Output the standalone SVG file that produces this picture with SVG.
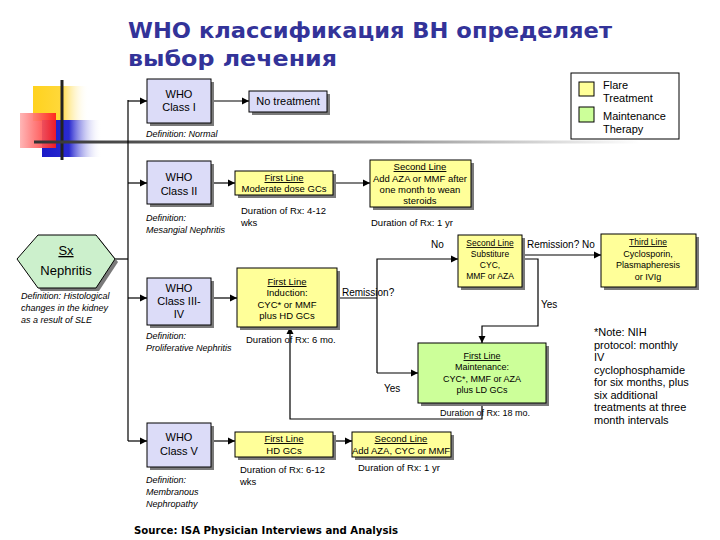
<svg xmlns="http://www.w3.org/2000/svg" width="720" height="540" viewBox="0 0 720 540">
<defs>
<marker id="ah" markerWidth="8" markerHeight="8" refX="7" refY="4" orient="auto" markerUnits="userSpaceOnUse"><path d="M0,0.5 L7,4 L0,7.5 z" fill="#000"/></marker>
<linearGradient id="gl" x1="0" y1="0" x2="1" y2="0"><stop offset="0" stop-color="#333"/><stop offset="0.6" stop-color="#999"/><stop offset="1" stop-color="#fff"/></linearGradient>
<linearGradient id="gy" x1="0" y1="0" x2="1" y2="0"><stop offset="0" stop-color="#ffd21e"/><stop offset="0.5" stop-color="#ffd83a"/><stop offset="1" stop-color="#fff" stop-opacity="0"/></linearGradient>
<linearGradient id="gr" x1="0" y1="0" x2="1" y2="0"><stop offset="0" stop-color="#ffb0b0"/><stop offset="1" stop-color="#ff1a1a"/></linearGradient>
<linearGradient id="gb" x1="0" y1="0" x2="1" y2="0"><stop offset="0" stop-color="#1a1ac8"/><stop offset="0.45" stop-color="#2a2ad0"/><stop offset="1" stop-color="#fff" stop-opacity="0"/></linearGradient>
</defs>
<style>
.t{font-family:"Liberation Sans",Arial,sans-serif;font-size:9.5px;fill:#000}
.m{text-anchor:middle}
.b{font-size:11px}
.i{font-style:italic;font-size:9px}
.u{text-decoration:underline}
.cls{fill:#dcdcf8;stroke:#000;stroke-width:1}
.yel{fill:#ffff99;stroke:#000;stroke-width:1}
.grn{fill:#ccff99;stroke:#000;stroke-width:1}
.sh{fill:#7a7a7a}
.c{fill:none;stroke:#000;stroke-width:1.2}
.ttl{font-family:"DejaVu Sans",Verdana,sans-serif;font-weight:bold;font-size:21px;fill:#333399}
</style>
<rect width="720" height="540" fill="#fff"/>
<g id="logo">
<rect x="33" y="86" width="56" height="35" fill="url(#gy)"/>
<rect x="42" y="120" width="60" height="37" fill="url(#gb)"/>
<rect x="20" y="113" width="36" height="35" fill="url(#gr)" opacity="0.92"/>
<line x1="62" y1="80" x2="62" y2="160" stroke="#222" stroke-width="3"/>
</g>
<rect x="34" y="140.5" width="606" height="3" fill="url(#gl)"/>
<g id="title">
<text class="ttl" x="128" y="38" textLength="484" lengthAdjust="spacingAndGlyphs">WHO классификация ВН определяет</text>
<text class="ttl" x="128" y="66" textLength="209" lengthAdjust="spacingAndGlyphs">выбор лечения</text>
</g>
<g id="connectors">
<line class="c" x1="115" y1="259" x2="128" y2="259"/>
<line class="c" x1="128" y1="100" x2="128" y2="441"/>
<line class="c" x1="128" y1="101" x2="147" y2="101" marker-end="url(#ah)"/>
<line class="c" x1="211" y1="101" x2="249" y2="101" marker-end="url(#ah)"/>
<line class="c" x1="128" y1="183" x2="147" y2="183" marker-end="url(#ah)"/>
<line class="c" x1="211" y1="183" x2="235" y2="183" marker-end="url(#ah)"/>
<line class="c" x1="333" y1="183" x2="370" y2="183" marker-end="url(#ah)"/>
<line class="c" x1="128" y1="298" x2="147" y2="298" marker-end="url(#ah)"/>
<line class="c" x1="211" y1="298" x2="237" y2="298" marker-end="url(#ah)"/>
<polyline class="c" points="337,298 377,298"/>
<polyline class="c" points="377,373 377,259 458,259" marker-end="url(#ah)"/>
<polyline class="c" points="377,373 418,373" marker-end="url(#ah)"/>
<line class="c" x1="522" y1="255" x2="601" y2="255" marker-end="url(#ah)"/>
<polyline class="c" points="522,259 538,259 538,326 482,326 482,343" marker-end="url(#ah)"/>
<polyline class="c" points="482,403 482,419 290,419 290,327" marker-end="url(#ah)"/>
<line class="c" x1="128" y1="441" x2="147" y2="441" marker-end="url(#ah)"/>
<line class="c" x1="211" y1="441" x2="235" y2="441" marker-end="url(#ah)"/>
<line class="c" x1="333" y1="441" x2="352" y2="441" marker-end="url(#ah)"/>
</g>
<g id="legend">
<rect x="571" y="73" width="108" height="66" fill="#fff" stroke="#000"/>
<rect x="579" y="82" width="15" height="14" fill="#ffff99" stroke="#000"/>
<rect x="579" y="107" width="15" height="15" fill="#ccff99" stroke="#000"/>
<text class="t b" x="603" y="89">Flare</text>
<text class="t b" x="603" y="102">Treatment</text>
<text class="t b" x="603" y="120">Maintenance</text>
<text class="t b" x="603" y="133">Therapy</text>
</g>
<g id="sx">
<polygon points="20,262 41,238 99,238 118,262 99,291 41,291" class="sh"/>
<polygon points="17,259 38,235 96,235 115,259 96,288 38,288" fill="#ccf0cc" stroke="#000"/>
<text class="t m u" x="66" y="255" style="font-size:13px">Sx</text>
<text class="t m" x="66" y="275" style="font-size:13px">Nephritis</text>
<text class="t i" x="21" y="299">Definition: Histological</text>
<text class="t i" x="21" y="311">changes in the kidney</text>
<text class="t i" x="21" y="323">as a result of SLE</text>
</g>
<g id="class1">
<rect class="sh" x="150" y="82" width="64" height="44"/>
<rect class="cls" x="147" y="79" width="64" height="44"/>
<text class="t m b" x="179" y="98">WHO</text>
<text class="t m b" x="179" y="111">Class I</text>
<text class="t i" x="146" y="137">Definition: Normal</text>
</g>
<g id="notreat">
<rect class="sh" x="252" y="94" width="78" height="21"/>
<rect class="cls" x="249" y="91" width="78" height="21"/>
<text class="t m b" x="288" y="105">No treatment</text>
</g>
<g id="class2">
<rect class="sh" x="150" y="164" width="64" height="43"/>
<rect class="cls" x="147" y="161" width="64" height="43"/>
<text class="t m b" x="179" y="181">WHO</text>
<text class="t m b" x="179" y="195">Class II</text>
<text class="t i" x="146" y="221">Definition:</text>
<text class="t i" x="146" y="233">Mesangial Nephritis</text>
</g>
<g id="first2">
<rect class="sh" x="238" y="174" width="98" height="24"/>
<rect class="yel" x="235" y="171" width="98" height="24"/>
<text class="t m u" x="284" y="181">First Line</text>
<text class="t m" x="284" y="192">Moderate dose GCs</text>
<text class="t" x="241" y="214">Duration of Rx: 4-12</text>
<text class="t" x="241" y="226">wks</text>
</g>
<g id="second2">
<rect class="sh" x="373" y="163" width="101" height="47"/>
<rect class="yel" x="370" y="160" width="101" height="47"/>
<text class="t m u" x="420" y="170">Second Line</text>
<text class="t m" x="420" y="182">Add AZA or MMF after</text>
<text class="t m" x="420" y="193">one month to wean</text>
<text class="t m" x="420" y="204">steroids</text>
<text class="t" x="371" y="226">Duration of Rx: 1 yr</text>
</g>
<g id="class3">
<rect class="sh" x="150" y="281" width="64" height="47"/>
<rect class="cls" x="147" y="278" width="64" height="47"/>
<text class="t m b" x="179" y="292">WHO</text>
<text class="t m b" x="179" y="305">Class III-</text>
<text class="t m b" x="179" y="318">IV</text>
<text class="t i" x="146" y="339">Definition:</text>
<text class="t i" x="146" y="351">Proliferative Nephritis</text>
</g>
<g id="induction">
<rect class="sh" x="240" y="271" width="100" height="59"/>
<rect class="yel" x="237" y="268" width="100" height="59"/>
<text class="t m u" x="287" y="285">First Line</text>
<text class="t m" x="287" y="296">Induction:</text>
<text class="t m" x="287" y="308">CYC* or MMF</text>
<text class="t m" x="287" y="319">plus HD GCs</text>
<text class="t" x="246" y="343">Duration of Rx: 6 mo.</text>
<text class="t" x="342" y="296" style="font-size:10px">Remission?</text>
</g>
<g id="second3">
<rect class="sh" x="461" y="238" width="64" height="52"/>
<rect class="yel" x="458" y="235" width="64" height="52"/>
<text class="t m u" x="490" y="246" style="font-size:8.5px">Second Line</text>
<text class="t m" x="490" y="257" style="font-size:8.5px">Substiture</text>
<text class="t m" x="490" y="268" style="font-size:8.5px">CYC,</text>
<text class="t m" x="490" y="279" style="font-size:8.5px">MMF or AZA</text>
<text class="t" x="431" y="248" style="font-size:10px">No</text>
<text class="t" x="527" y="248" style="font-size:10px">Remission?  No</text>
<text class="t" x="541" y="308" style="font-size:10px">Yes</text>
</g>
<g id="third3">
<rect class="sh" x="604" y="237" width="95" height="53"/>
<rect class="yel" x="601" y="234" width="95" height="53"/>
<text class="t m u" x="648" y="245" style="font-size:8.5px">Third Line</text>
<text class="t m" x="648" y="257" style="font-size:9px">Cyclosporin,</text>
<text class="t m" x="648" y="268" style="font-size:9px">Plasmapheresis</text>
<text class="t m" x="648" y="280" style="font-size:9px">or IVIg</text>
</g>
<g id="maint">
<rect class="sh" x="421" y="346" width="128" height="60"/>
<rect class="grn" x="418" y="343" width="128" height="60"/>
<text class="t m u" x="482" y="359" style="font-size:9px">First Line</text>
<text class="t m" x="482" y="370" style="font-size:9px">Maintenance:</text>
<text class="t m" x="482" y="382" style="font-size:9px">CYC*, MMF or AZA</text>
<text class="t m" x="482" y="393" style="font-size:9px">plus LD GCs</text>
<text class="t" x="384" y="392" style="font-size:10px">Yes</text>
<text class="t" x="440" y="416" style="font-size:9px">Duration of Rx: 18 mo.</text>
</g>
<g id="note">
<text class="t b" x="594" y="336">*Note: NIH</text>
<text class="t b" x="594" y="349">protocol: monthly</text>
<text class="t b" x="594" y="361">IV</text>
<text class="t b" x="594" y="374">cyclophosphamide</text>
<text class="t b" x="594" y="386">for six months, plus</text>
<text class="t b" x="594" y="399">six additional</text>
<text class="t b" x="594" y="411">treatments at three</text>
<text class="t b" x="594" y="424">month intervals</text>
</g>
<g id="class5">
<rect class="sh" x="150" y="426" width="64" height="44"/>
<rect class="cls" x="147" y="423" width="64" height="44"/>
<text class="t m b" x="179" y="441">WHO</text>
<text class="t m b" x="179" y="455">Class V</text>
<text class="t i" x="146" y="483">Definition:</text>
<text class="t i" x="146" y="495">Membranous</text>
<text class="t i" x="146" y="507">Nephropathy</text>
</g>
<g id="first5">
<rect class="sh" x="238" y="435" width="98" height="25"/>
<rect class="yel" x="235" y="432" width="98" height="25"/>
<text class="t m u" x="284" y="442">First Line</text>
<text class="t m" x="284" y="454">HD GCs</text>
<text class="t" x="240" y="473">Duration of Rx: 6-12</text>
<text class="t" x="240" y="485">wks</text>
</g>
<g id="second5">
<rect class="sh" x="355" y="435" width="99" height="25"/>
<rect class="yel" x="352" y="432" width="99" height="25"/>
<text class="t m u" x="401" y="442">Second Line</text>
<text class="t m" x="401" y="454">Add AZA, CYC or MMF</text>
<text class="t" x="358" y="471">Duration of Rx: 1 yr</text>
</g>
<text x="134" y="534" style="font-family:'DejaVu Sans',Verdana,sans-serif;font-weight:bold;font-size:10px" textLength="264" lengthAdjust="spacingAndGlyphs">Source: ISA Physician Interviews and Analysis</text>
</svg>
